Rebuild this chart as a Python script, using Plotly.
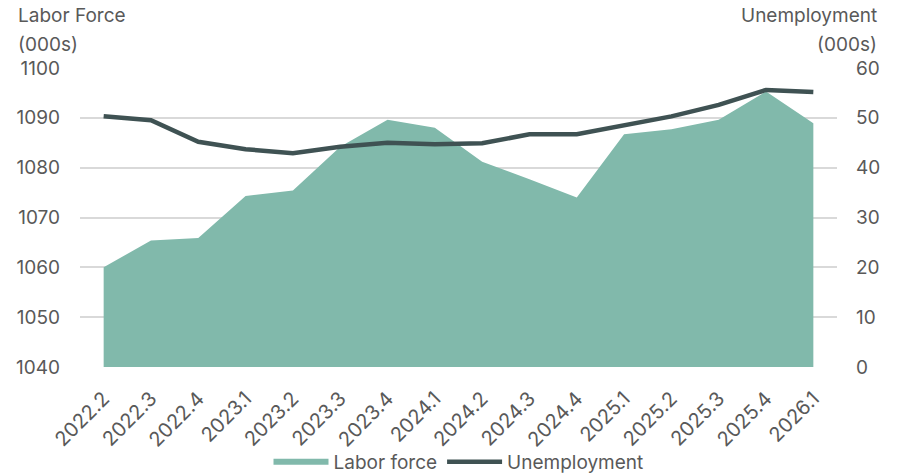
import plotly.graph_objects as go

# Quarterly periods
quarters = ["2022.2", "2022.3", "2022.4", "2023.1", "2023.2", "2023.3", "2023.4",
            "2024.1", "2024.2", "2024.3", "2024.4", "2025.1", "2025.2", "2025.3",
            "2025.4", "2026.1"]

# Labor force, thousands (left axis)
labor_force = [1060.0, 1065.4, 1065.9, 1074.3, 1075.4, 1084.2, 1089.6, 1088.0,
               1081.2, 1077.7, 1074.0, 1086.7, 1087.7, 1089.6, 1095.3, 1088.9]

# Unemployment, thousands (right axis)
unemployment = [50.3, 49.5, 45.2, 43.7, 42.9, 44.2, 45.0, 44.7,
                44.9, 46.7, 46.7, 48.4, 50.3, 52.6, 55.6, 55.2]

left_ticks = [1040, 1050, 1060, 1070, 1080, 1090, 1100]
right_ticks = [0, 10, 20, 30, 40, 50, 60]

AREA = "#81b9ab"
LINE = "#3f5253"
TEXT = "#595959"
GRID = "#d9d9d9"
FONT = "Inter, Roboto, sans-serif"

W, H = 902, 476
ML, MR, MT, MB = 80, 65, 68, 109
plot_w = W - ML - MR
plot_h = H - MT - MB


def px_x(x):
    return (x - ML) / plot_w


def px_y(y):
    return (H - MB - y) / plot_h


fig = go.Figure()

fig.add_trace(go.Scatter(
    x=quarters, y=labor_force, name="Labor force",
    mode="none", fill="tozeroy", fillcolor=AREA,
    yaxis="y",
))

fig.add_trace(go.Scatter(
    x=quarters, y=unemployment, name="Unemployment",
    mode="lines", line=dict(color=LINE, width=4.5),
    yaxis="y2",
))

caption_font = dict(size=19, color=TEXT)

fig.update_layout(
    width=W, height=H,
    margin=dict(l=ML, r=MR, t=MT, b=MB, autoexpand=False),
    paper_bgcolor="white", plot_bgcolor="white",
    font=dict(family=FONT, size=18, color=TEXT),
    showlegend=True,
    legend=dict(
        orientation="h", x=0.5, xanchor="center", y=px_y(443), yanchor="top",
        font=dict(size=19, color=TEXT), itemwidth=55, traceorder="normal",
        bgcolor="rgba(0,0,0,0)",
    ),
    xaxis=dict(
        type="category", range=[-0.5, len(quarters) - 0.5],
        showgrid=False, showline=False, zeroline=False, automargin=False,
        tickangle=-45, tickfont=dict(size=20, color=TEXT), ticks="",
        ticklabelstandoff=15,
    ),
    yaxis=dict(
        range=[1040, 1100], tickvals=left_ticks, automargin=False,
        showgrid=True, gridcolor=GRID, gridwidth=2,
        zeroline=False, showline=False, ticks="",
        tickfont=dict(size=19, color=TEXT), ticklabelstandoff=19,
    ),
    yaxis2=dict(
        range=[0, 60], tickvals=right_ticks, overlaying="y", side="right",
        automargin=False,
        showgrid=False, zeroline=False, showline=False, ticks="",
        tickfont=dict(size=19, color=TEXT), ticklabelstandoff=18,
    ),
    annotations=[
        dict(text="Labor Force", x=px_x(16), y=px_y(16), xref="paper", yref="paper",
             showarrow=False, xanchor="left", yanchor="middle", font=caption_font),
        dict(text="(000s)", x=px_x(16), y=px_y(44), xref="paper", yref="paper",
             showarrow=False, xanchor="left", yanchor="middle", font=caption_font),
        dict(text="Unemployment", x=px_x(879), y=px_y(16), xref="paper", yref="paper",
             showarrow=False, xanchor="right", yanchor="middle", font=caption_font),
        dict(text="(000s)", x=px_x(879), y=px_y(44), xref="paper", yref="paper",
             showarrow=False, xanchor="right", yanchor="middle", font=caption_font),
    ],
)

fig.write_html("out.html")
